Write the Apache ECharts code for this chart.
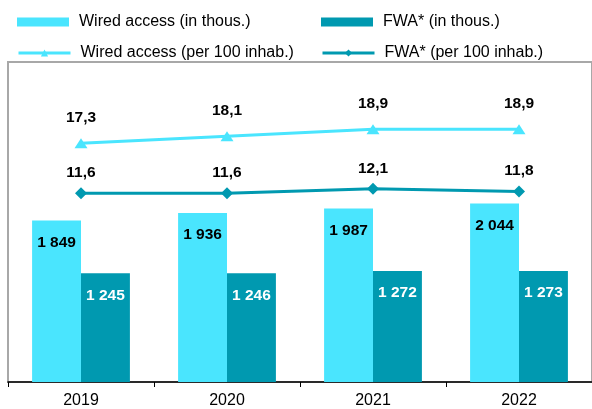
<!DOCTYPE html>
<html>
<head>
<meta charset="utf-8">
<script src="https://cdn.jsdelivr.net/npm/echarts@6/dist/echarts.min.js"></script>
<style>
  html, body { margin: 0; padding: 0; background: #fff; }
  #chart { width: 592px; height: 409px; }
</style>
</head>
<body>
<div id="chart"></div>
<script>
// data
const years = ['2019', '2020', '2021', '2022'];
const wiredThous = [1849, 1936, 1987, 2044];
const fwaThous = [1245, 1246, 1272, 1273];
const wiredPer100 = [17.3, 18.1, 18.9, 18.9];
const fwaPer100 = [11.6, 11.6, 12.1, 11.8];

const LIGHT = '#4ae5fe';
const TEAL = '#0099b0';
const FONT = '"Liberation Sans", Arial, sans-serif';

// "1 849" style thousands, "17,3" style decimals
const fmtThous = p => String(p.value).replace(/\B(?=(\d{3})+(?!\d))/g, ' ');
const fmtDec = p => p.value.toFixed(1).replace('.', ',');

const chart = echarts.init(document.getElementById('chart'));

function legendAt(name, left, top, isBar) {
  const lg = {
    data: [name],
    left: left,
    top: top,
    padding: 0,
    itemWidth: 52,
    itemHeight: 9,
    textStyle: { fontFamily: FONT, fontSize: 16, color: '#000', padding: [0, 0, 0, 5] },
    selectedMode: false
  };
  if (isBar) lg.icon = 'rect';
  else lg.lineStyle = { width: 3 };
  return lg;
}

chart.setOption({
  animation: false,
  textStyle: { fontFamily: FONT },
  legend: [
    legendAt('Wired access (in thous.)', 17, 14, true),
    legendAt('FWA* (in thous.)', 321, 14, true),
    legendAt('Wired access (per 100 inhab.)', 17, 45, false),
    legendAt('FWA* (per 100 inhab.)', 321, 45, false)
  ],
  grid: {
    left: 8,
    right: 0,
    top: 62,
    bottom: 26,
    show: true,
    borderColor: '#a8a8a8',
    borderWidth: 2
  },
  xAxis: {
    type: 'category',
    data: years,
    axisLine: { lineStyle: { color: '#000', width: 1.5 } },
    axisTick: { show: true, length: 5, lineStyle: { color: '#000' } },
    axisLabel: { fontSize: 16, color: '#000', margin: 11, fontFamily: FONT }
  },
  yAxis: [
    { type: 'value', min: 0, max: 3666, show: false, splitLine: { show: false } },
    { type: 'value', min: -10, max: 26.6, show: false, splitLine: { show: false } }
  ],
  series: [
    {
      name: 'Wired access (in thous.)',
      type: 'bar',
      data: wiredThous,
      barGap: '0%',
      barCategoryGap: '33%',
      itemStyle: { color: LIGHT },
      label: {
        show: true, position: 'insideTop', distance: 14,
        formatter: fmtThous, color: '#000', fontWeight: 'bold', fontSize: 15.5, fontFamily: FONT
      }
    },
    {
      name: 'FWA* (in thous.)',
      type: 'bar',
      data: fwaThous,
      itemStyle: { color: TEAL },
      label: {
        show: true, position: 'insideTop', distance: 14,
        formatter: fmtThous, color: '#fff', fontWeight: 'bold', fontSize: 15.5, fontFamily: FONT
      }
    },
    {
      name: 'Wired access (per 100 inhab.)',
      type: 'line',
      yAxisIndex: 1,
      data: wiredPer100,
      symbol: 'triangle',
      symbolSize: [13, 10],
      lineStyle: { color: LIGHT, width: 3 },
      itemStyle: { color: LIGHT },
      z: 5,
      label: {
        show: true, position: 'top', distance: 13,
        formatter: fmtDec, color: '#000', fontWeight: 'bold', fontSize: 15.5, fontFamily: FONT
      }
    },
    {
      name: 'FWA* (per 100 inhab.)',
      type: 'line',
      yAxisIndex: 1,
      data: fwaPer100,
      symbol: 'diamond',
      symbolSize: 12,
      lineStyle: { color: TEAL, width: 3 },
      itemStyle: { color: TEAL },
      z: 5,
      label: {
        show: true, position: 'top', distance: 6.5,
        formatter: fmtDec, color: '#000', fontWeight: 'bold', fontSize: 15.5, fontFamily: FONT
      }
    }
  ]
});
</script>
</body>
</html>
